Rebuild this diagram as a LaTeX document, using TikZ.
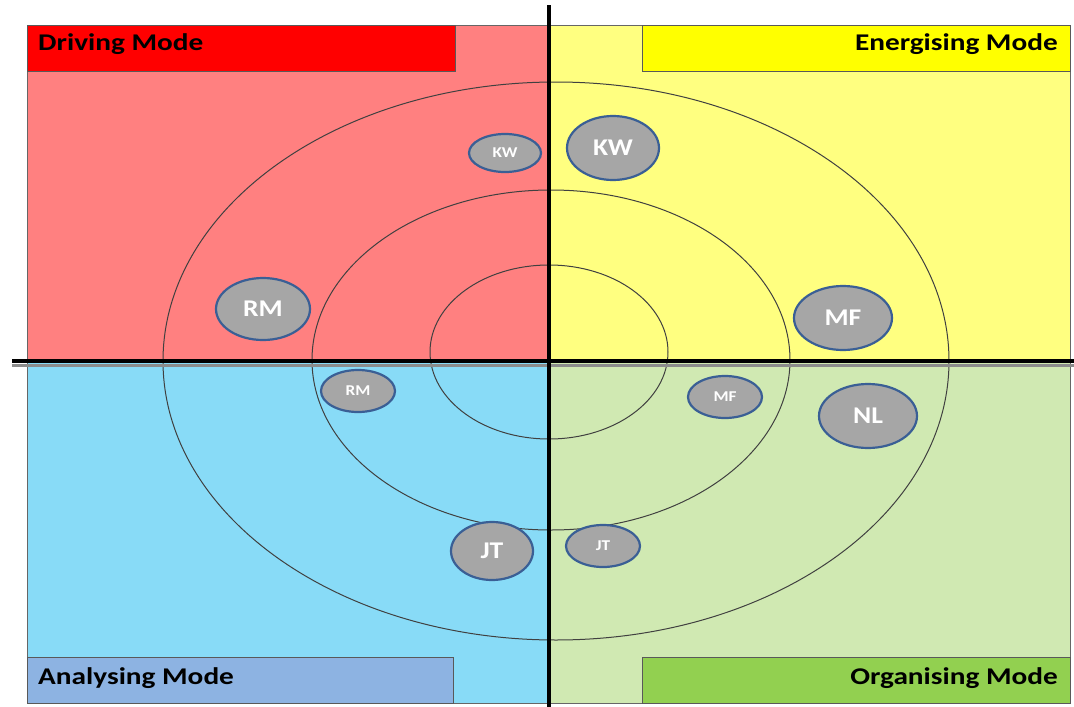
\documentclass[tikz,border=0pt]{standalone}
\usepackage{fontspec}
\setmainfont{Carlito}
\usetikzlibrary{shapes.geometric}
\definecolor{qred}{HTML}{FF8080}
\definecolor{lred}{HTML}{FF0000}
\definecolor{qyel}{HTML}{FFFF80}
\definecolor{lyel}{HTML}{FFFF00}
\definecolor{qblue}{HTML}{88DBF7}
\definecolor{lblue}{HTML}{8DB3E2}
\definecolor{qgreen}{HTML}{D0E9B2}
\definecolor{lgreen}{HTML}{92D050}
\definecolor{ebord}{HTML}{3A5F95}
\definecolor{egray}{HTML}{A6A6A6}
\tikzset{
  quad/.style={draw=black!60, line width=0.8pt},
  lbl/.style={draw=black!65, line width=1pt},
  ltext/.style={font=\bfseries\fontsize{24}{26}\selectfont, text=black, inner sep=0pt, xscale=1.22},
  ring/.style={draw=black!75, line width=1pt},
  axis/.style={draw=black, line width=4.5pt},
  pbig/.style={ellipse, draw=ebord, fill=egray, line width=2.2pt, text=white, font=\bfseries\fontsize{24}{26}\selectfont, inner sep=0pt},
  psmall/.style={ellipse, draw=ebord, fill=egray, line width=2.2pt, text=white, font=\bfseries\fontsize{15}{17}\selectfont, inner sep=0pt}
}
\newcommand{\wide}[1]{\scalebox{1.15}[1]{#1}}
\begin{document}
\begin{tikzpicture}[x=1pt,y=-1pt]
\useasboundingbox (0,0) rectangle (1074,707);
\fill[white] (0,0) rectangle (1074,707);
% quadrants
\path[quad, fill=qred] (27,25) rectangle (548,362);
\path[quad, fill=qyel] (548,25) rectangle (1070,362);
\path[quad, fill=qblue] (27,362) rectangle (548,703);
\path[quad, fill=qgreen] (548,362) rectangle (1070,703);
% label boxes
\path[lbl, fill=lred] (27,25) rectangle (455,71);
\path[lbl, fill=lyel] (642,25) rectangle (1070,71);
\path[lbl, fill=lblue] (27,657) rectangle (453,703);
\path[lbl, fill=lgreen] (642,657) rectangle (1070,703);
\node[ltext, anchor=west] (dm) at (38,44) {Driving Mode};
\node[ltext, anchor=east] (em) at (1058,44) {Energising Mode};
\node[ltext, anchor=west] (am) at (38,678) {Analysing Mode};
\node[ltext, anchor=east] (om) at (1058,678) {Organising Mode};
% rings
\coordinate (c1) at (549,352);
\coordinate (c2) at (551,360);
\coordinate (c3) at (556,361);
\draw[ring] (c1) ellipse [x radius=119, y radius=87];
\draw[ring] (c2) ellipse [x radius=239, y radius=170];
\draw[ring] (c3) ellipse [x radius=393, y radius=279];
% axes
\draw[draw=black!45, line width=3pt] (12,365) -- (1074,365);
\draw[axis] (12,361) -- (1074,361);
\draw[axis] (549,5) -- (549,707);
% people
\node[psmall, minimum width=72, minimum height=38] (kw1) at (505,153) {\wide{KW}};
\node[pbig, minimum width=92, minimum height=64] (kw2) at (613,148) {\wide{KW}};
\node[pbig, minimum width=94, minimum height=62] (rm2) at (263,309) {\wide{RM}};
\node[psmall, minimum width=74, minimum height=42] (rm1) at (358,391) {\wide{RM}};
\node[pbig, minimum width=98, minimum height=64] (mf2) at (843,318) {\wide{MF}};
\node[psmall, minimum width=74, minimum height=42] (mf1) at (725,397) {\wide{MF}};
\node[pbig, minimum width=98, minimum height=64] (nl) at (868,416) {\wide{NL}};
\node[pbig, minimum width=82, minimum height=58] (jt2) at (492,551) {\wide{JT}};
\node[psmall, minimum width=74, minimum height=42] (jt1) at (603,546) {\wide{JT}};
\end{tikzpicture}
\end{document}
